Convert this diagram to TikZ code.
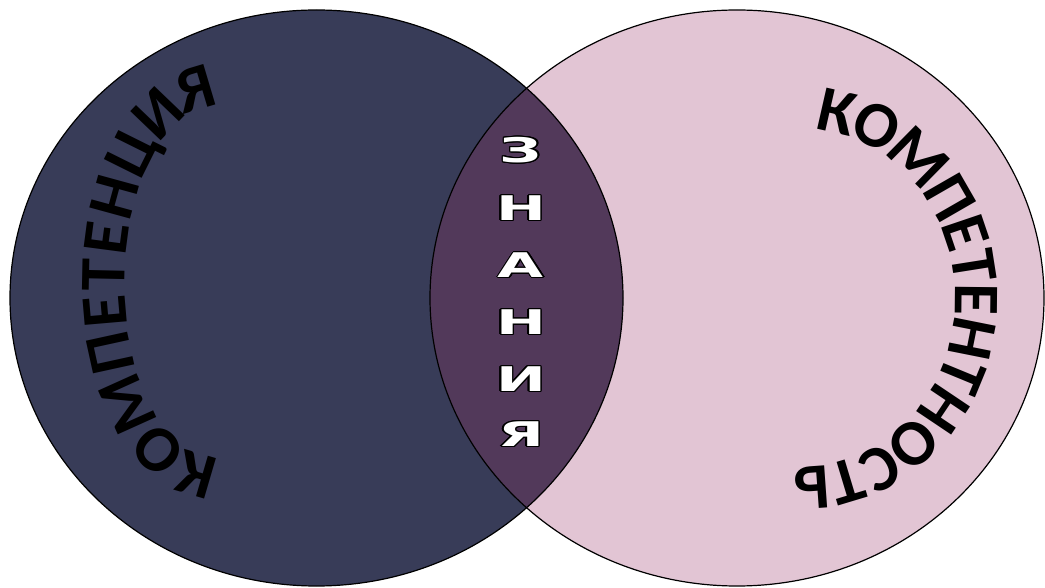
\documentclass[tikz,border=0pt]{standalone}
\usepackage{fontspec}
\newfontfamily\carlito{Carlito}
\newfontfamily\dejavu{DejaVu Sans}
\usetikzlibrary{decorations.text,calc}
\definecolor{navy}{RGB}{56,60,88}
\definecolor{pinkfill}{RGB}{226,197,212}
\definecolor{lensfill}{RGB}{82,57,90}
\newcommand\arcfont{\carlito\bfseries\fontsize{65pt}{65pt}\selectfont}
\begin{document}
\begin{tikzpicture}[x=1pt,y=1pt,
  circ/.style={draw=black,line width=1.2pt},
  arctext/.style={decorate,decoration={text along path,text align=fit to path,raise=-20.5pt}},
  midtext/.style={font=\dejavu\bfseries\fontsize{34pt}{34pt}\selectfont,inner sep=0pt,text height=25pt,text depth=0pt}]
\useasboundingbox (0,0) rectangle (1045,587);
\fill[navy] (316.5,289) ellipse[x radius=306.5,y radius=288];
\fill[pinkfill] (737,289) ellipse[x radius=307,y radius=288];
\begin{scope}
  \clip (316.5,289) ellipse[x radius=306.5,y radius=288];
  \fill[lensfill] (737,289) ellipse[x radius=307,y radius=288];
\end{scope}
\draw[circ] (316.5,289) ellipse[x radius=306.5,y radius=288];
\draw[circ] (737,289) ellipse[x radius=307,y radius=288];
% curved words
\path[arctext,decoration={text={|\arcfont|КОМПЕТЕНЦИЯ}}]
  (214,110) arc[start angle=270,end angle=90,x radius=110,y radius=195];
\path[arctext,decoration={text={|\arcfont|КОМПЕТЕНТНОСТЬ}}]
  (800,289) ++(84:176 and 190) arc[start angle=84,end angle=-92,x radius=176,y radius=190];
% vertical outlined word
\foreach \l/\yy [count=\i] in {З/437,Н/379,А/322,Н/265,И/208,Я/153}{
  \foreach \a in {0,22.5,...,337.5}
    \node[midtext,text=black] at ($(521,\yy)+(\a:1.3)$) {\scalebox{1.75}[1]{\l}};
  \node[midtext,text=white] (z\i) at (521,\yy) {\scalebox{1.75}[1]{\l}};
}
\end{tikzpicture}
\end{document}
